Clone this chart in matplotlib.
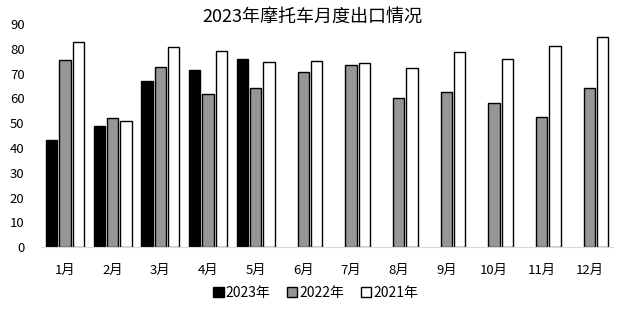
import numpy as np
import matplotlib
matplotlib.use("Agg")
import matplotlib.pyplot as plt

plt.rcParams["font.family"] = ["Noto Sans CJK SC", "DejaVu Sans"]

months = ["1月", "2月", "3月", "4月", "5月", "6月",
          "7月", "8月", "9月", "10月", "11月", "12月"]
nan = np.nan
y2023 = [43.2, 49.0, 67.1, 71.6, 75.8, nan, nan, nan, nan, nan, nan, nan]
y2022 = [75.4, 52.1, 72.6, 61.7, 64.1, 70.7, 73.4, 60.1, 62.5, 58.1, 52.4, 64.1]
y2021 = [82.7, 50.8, 80.6, 79.0, 74.7, 75.2, 74.3, 72.2, 78.6, 75.8, 81.0, 84.7]
series = [("2023年", y2023, "black"),
          ("2022年", y2022, "#969696"),
          ("2021年", y2021, "white")]

fig = plt.figure(figsize=(6.25, 3.09), dpi=100)
ax = fig.add_axes([0.066, 0.2, 0.915, 0.722])

x = np.arange(len(months))
w = 0.235
for i, (name, vals, col) in enumerate(series):
    ax.bar(x + (i - 1) * 0.28, vals, w, color=col, edgecolor="black",
           linewidth=1.0, label=name)

ax.set_xlim(-0.5, len(months) - 0.5)
ax.set_ylim(0, 90)
ax.set_yticks(range(0, 91, 10))
ax.set_xticks(x)
ax.set_xticklabels(months)
ax.tick_params(length=0, labelsize=9.5)
ax.tick_params(axis="x", pad=12)
ax.tick_params(axis="y", pad=12)
for s in ["top", "right", "left"]:
    ax.spines[s].set_visible(False)
ax.spines["bottom"].set_color("#d9d9d9")

fig.suptitle("2023年摩托车月度出口情况", y=0.975, fontsize=13)
ax.legend(loc="lower center", bbox_to_anchor=(0.48, -0.26), ncol=3,
          frameon=False, fontsize=10, handlelength=0.75, handleheight=0.75,
          handletextpad=0.15, columnspacing=1.2, borderaxespad=0)

fig.savefig("out.png", dpi=100)
